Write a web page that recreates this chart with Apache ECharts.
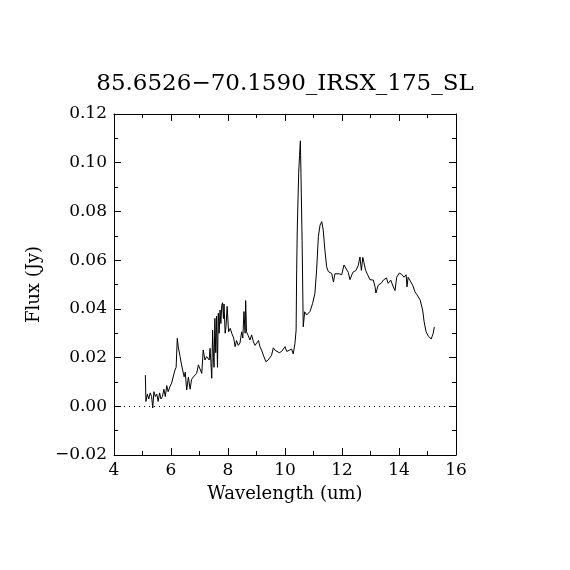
<!DOCTYPE html>
<html>
<head>
<meta charset="utf-8">
<script src="https://cdn.jsdelivr.net/npm/echarts@6/dist/echarts.min.js"></script>
<style>html,body{margin:0;padding:0;background:#fff}#c{width:570px;height:570px}</style>
</head>
<body>
<div id="c"></div>
<script>
const titleText = "85.6526\u221270.1590_IRSX_175_SL";
const xName = "Wavelength (um)";
const yName = "Flux (Jy)";
const xTicks = [4, 6, 8, 10, 12, 14, 16];
const yTicks = [-0.02, 0.00, 0.02, 0.04, 0.06, 0.08, 0.10, 0.12];

const wavelength = [
 5.10,5.12,5.17,5.22,5.27,5.32,5.36,5.40,5.45,5.50,5.55,5.60,5.65,5.70,5.75,5.80,5.85,5.90,5.96,6.02,
 6.08,6.14,6.18,6.22,6.26,6.32,6.37,6.41,6.46,6.50,6.55,6.61,6.67,6.72,6.78,6.84,6.90,6.96,7.02,7.08,
 7.13,7.19,7.25,7.30,7.34,7.37,7.40,7.43,7.46,7.49,7.51,7.54,7.57,7.60,7.63,7.66,7.69,7.72,7.75,7.78,
 7.81,7.84,7.86,7.90,7.93,7.97,8.02,8.08,8.13,8.20,8.25,8.30,8.36,8.42,8.48,8.52,8.56,8.60,8.62,8.65,
 8.71,8.77,8.83,8.89,8.95,9.01,9.07,9.12,9.18,9.24,9.33,9.41,9.47,9.53,9.59,9.65,9.71,9.80,9.88,9.94,
 10.00,10.06,10.15,10.23,10.29,10.35,10.39,10.41,10.43,10.48,10.51,10.54,10.56,10.60,10.64,10.69,10.76,10.82,10.88,10.97,
 11.05,11.11,11.17,11.23,11.29,11.34,11.40,11.46,11.52,11.58,11.64,11.70,11.75,11.81,11.90,11.99,12.07,12.14,12.22,12.28,
 12.38,12.49,12.57,12.63,12.68,12.73,12.77,12.83,12.90,12.98,13.04,13.10,13.16,13.19,13.27,13.33,13.39,13.45,13.50,13.56,
 13.62,13.71,13.80,13.86,13.92,14.01,14.09,14.18,14.25,14.28,14.32,14.39,14.48,14.56,14.62,14.68,14.74,14.83,14.88,14.95,
 15.03,15.13,15.20,15.24
];
const flux = [
 0.0128,0.0020,0.0050,0.0030,0.0055,0.0040,-0.0007,0.0060,0.0040,0.0050,0.0020,0.0055,0.0030,0.0040,0.0070,0.0040,0.0085,0.0060,0.0080,0.0095,
 0.0101,0.0149,0.0160,0.0279,0.0240,0.0204,0.0170,0.0149,0.0121,0.0140,0.0067,0.0120,0.0070,0.0110,0.0120,0.0125,0.0135,0.0170,0.0165,0.0135,
 0.0231,0.0190,0.0204,0.0210,0.0190,0.0238,0.0180,0.0115,0.0313,0.0200,0.0160,0.0361,0.0220,0.0370,0.0160,0.0382,0.0300,0.0395,0.0340,0.0415,
 0.0425,0.0360,0.0420,0.0300,0.0327,0.0410,0.0306,0.0320,0.0300,0.0280,0.0245,0.0270,0.0250,0.0260,0.0306,0.0280,0.0389,0.0300,0.0434,0.0306,
 0.0290,0.0272,0.0293,0.0265,0.0250,0.0260,0.0270,0.0245,0.0230,0.0210,0.0183,0.0190,0.0200,0.0210,0.0240,0.0230,0.0225,0.0220,0.0225,0.0220,
 0.0245,0.0225,0.0230,0.0235,0.0215,0.0259,0.0313,0.0560,0.0724,0.0957,0.1030,0.1090,0.0957,0.0680,0.0326,0.0388,0.0375,0.0380,0.0390,0.0423,
 0.0464,0.0560,0.0696,0.0744,0.0758,0.0724,0.0642,0.0573,0.0553,0.0558,0.0545,0.0510,0.0544,0.0536,0.0544,0.0540,0.0580,0.0578,0.0550,0.0520,
 0.0550,0.0558,0.0578,0.0613,0.0558,0.0611,0.0590,0.0558,0.0540,0.0520,0.0515,0.0518,0.0490,0.0465,0.0497,0.0505,0.0507,0.0518,0.0510,0.0527,
 0.0505,0.0518,0.0490,0.0475,0.0530,0.0547,0.0542,0.0530,0.0540,0.0490,0.0530,0.0527,0.0497,0.0470,0.0460,0.0457,0.0437,0.0395,0.0348,0.0306,
 0.0288,0.0276,0.0300,0.0326
];

const fontFam = "DejaVu Serif";
const pts = wavelength.map((w, i) => [w, flux[i]]);

const chart = echarts.init(document.getElementById('c'), null, {renderer: 'canvas'});
const baseX = {
  type: 'value', min: xTicks[0], max: xTicks[xTicks.length - 1], interval: 2,
  axisLine: {show: true, onZero: false, lineStyle: {color: '#000', width: 1}},
  axisTick: {show: true, inside: true, length: 7, lineStyle: {color: '#000'}},
  minorTick: {show: true, splitNumber: 2, length: 4, lineStyle: {color: '#000'}},
  splitLine: {show: false}
};
const baseY = {
  type: 'value', min: yTicks[0], max: yTicks[yTicks.length - 1], interval: 0.02,
  axisLine: {show: true, onZero: false, lineStyle: {color: '#000', width: 1}},
  axisTick: {show: true, inside: true, length: 7, lineStyle: {color: '#000'}},
  minorTick: {show: true, splitNumber: 2, length: 4, lineStyle: {color: '#000'}},
  splitLine: {show: false}
};
chart.setOption({
  animation: false,
  backgroundColor: '#fff',
  title: {
    text: titleText, left: 'center', top: 68,
    textStyle: {fontFamily: fontFam, fontWeight: 'normal', fontSize: 23, color: '#000'}
  },
  grid: {left: 114, right: 114, top: 114, bottom: 115, containLabel: false},
  xAxis: [
    Object.assign({}, baseX, {
      position: 'bottom', name: xName, nameLocation: 'middle', nameGap: 30,
      nameTextStyle: {fontFamily: fontFam, fontSize: 18, color: '#000'},
      axisLabel: {show: true, margin: 7, fontFamily: fontFam, fontSize: 17, color: '#000',
        formatter: v => String(v)}
    }),
    Object.assign({}, baseX, {position: 'top', axisLabel: {show: false}})
  ],
  yAxis: [
    Object.assign({}, baseY, {
      position: 'left', name: yName, nameLocation: 'middle', nameGap: 71, nameRotate: 90,
      nameTextStyle: {fontFamily: fontFam, fontSize: 18, color: '#000'},
      axisLabel: {show: true, margin: 7, fontFamily: fontFam, fontSize: 17, color: '#000',
        formatter: v => (v < 0 ? '\u2212' : '') + Math.abs(v).toFixed(2)}
    }),
    Object.assign({}, baseY, {position: 'right', axisLabel: {show: false}})
  ],
  series: [{
    type: 'line', xAxisIndex: 0, yAxisIndex: 0, data: pts, showSymbol: false, symbol: 'none',
    lineStyle: {color: '#000', width: 1}, silent: true,
    markLine: {
      silent: true, symbol: 'none', label: {show: false},
      lineStyle: {color: '#000', type: [1, 4], width: 1},
      data: [{yAxis: 0}]
    }
  }]
});
</script>
</body>
</html>
